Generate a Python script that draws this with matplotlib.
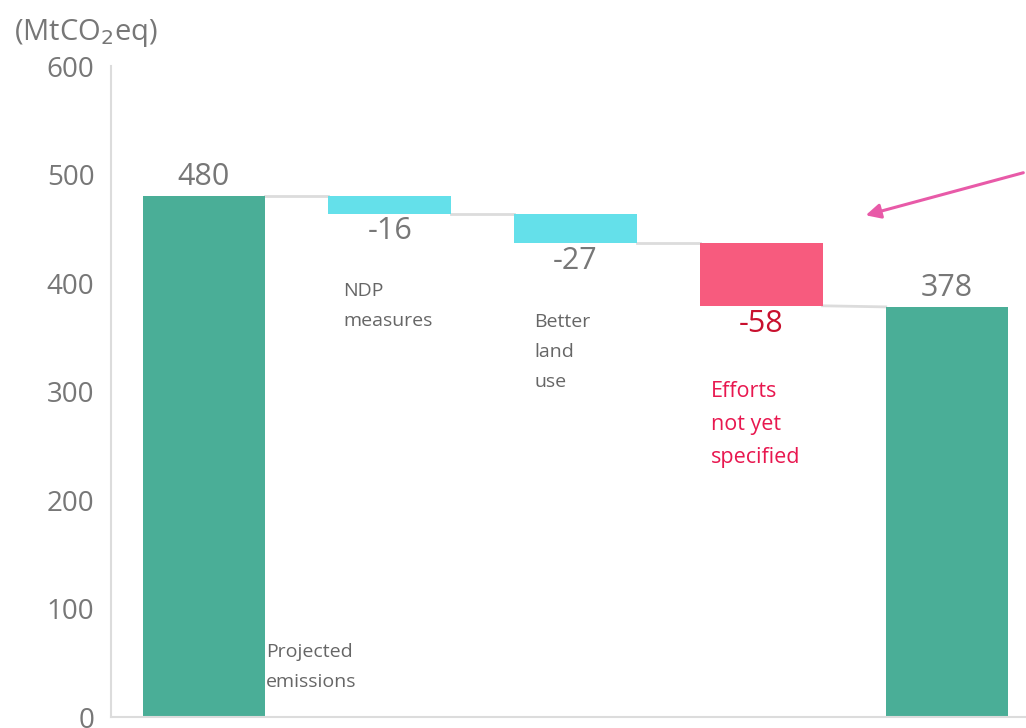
import matplotlib.pyplot as plt

plt.rcParams['font.family'] = ['Open Sans', 'DejaVu Sans']

# waterfall data
steps = ["Projected\nemissions", "NDP\nmeasures", "Better\nland\nuse",
         "Efforts\nnot yet\nspecified", "Target"]
start_total = 480
changes = [-16, -27, -58]
end_total = 378
yticks = [0, 100, 200, 300, 400, 500, 600]

teal = "#4aae97"
cyan = "#64e0ea"
pink = "#f75b7e"
grey = "#777777"
line_grey = "#dcdcdc"

fig = plt.figure(figsize=(10.26, 7.28), dpi=100)
# axes run past the right edge of the figure like in the cropped original
ax = fig.add_axes([0.1082, 0.0151, 0.9054, 0.8942])

width = 0.66
# opening bar
ax.bar(0, start_total, width=width, color=teal)
ax.annotate(str(start_total), (0, start_total), xytext=(0, 3), textcoords="offset points",
            ha="center", va="bottom", fontsize=22, color=grey)

running = start_total
colors = [cyan, cyan, pink]
label_colors = [grey, grey, "#c8102e"]
for i, (d, c, lc) in enumerate(zip(changes, colors, label_colors), start=1):
    ax.plot([i - 1 + width / 2, i - width / 2], [running, running], color=line_grey, lw=2, zorder=0)
    ax.bar(i, d, bottom=running, width=width, color=c)
    ax.annotate(str(d), (i, running + d), xytext=(0, -2), textcoords="offset points",
                ha="center", va="top", fontsize=22, color=lc)
    running += d

ax.plot([3 + width / 2, 4 - width / 2], [running, end_total], color=line_grey, lw=2, zorder=0)
ax.bar(4, end_total, width=width, color=teal)
ax.annotate(str(end_total), (4, end_total), xytext=(0, 3), textcoords="offset points",
            ha="center", va="bottom", fontsize=22, color=grey)

# step labels
ax.text(0.336, 68.5, steps[0], ha="left", va="top", fontsize=14, color="#666666", linespacing=1.85)
ax.text(0.75, 400.5, steps[1], ha="left", va="top", fontsize=14, color="#666666", linespacing=1.85)
ax.text(1.777, 372.5, steps[2], ha="left", va="top", fontsize=14, color="#666666", linespacing=1.85)
ax.text(2.728, 309.5, steps[3], ha="left", va="top", fontsize=15.5, color="#e8174f", linespacing=1.75)

ax.set_xlim(-0.5, 4.5)
ax.set_ylim(0, 600)
ax.set_yticks(yticks)
ax.set_xticks([])
ax.tick_params(axis="y", length=0, labelsize=20, labelcolor=grey, pad=12)
for s in ["top", "right"]:
    ax.spines[s].set_visible(False)
for s in ["left", "bottom"]:
    ax.spines[s].set_color(line_grey)
    ax.spines[s].set_linewidth(1.5)

fig.text(0.014, 0.955, "(MtCO$_2$eq)", fontsize=21, color=grey, ha="left", va="center")

# pointer arrow coming in from the right
ax.annotate("", xy=(863 / 1026, 1 - 216 / 728), xycoords="figure fraction",
            xytext=(1.0, 1 - 172 / 728), textcoords="figure fraction",
            arrowprops=dict(arrowstyle="-|>", color="#e85aa8", lw=2.2, mutation_scale=22))

fig.savefig("out.png", dpi=100)
